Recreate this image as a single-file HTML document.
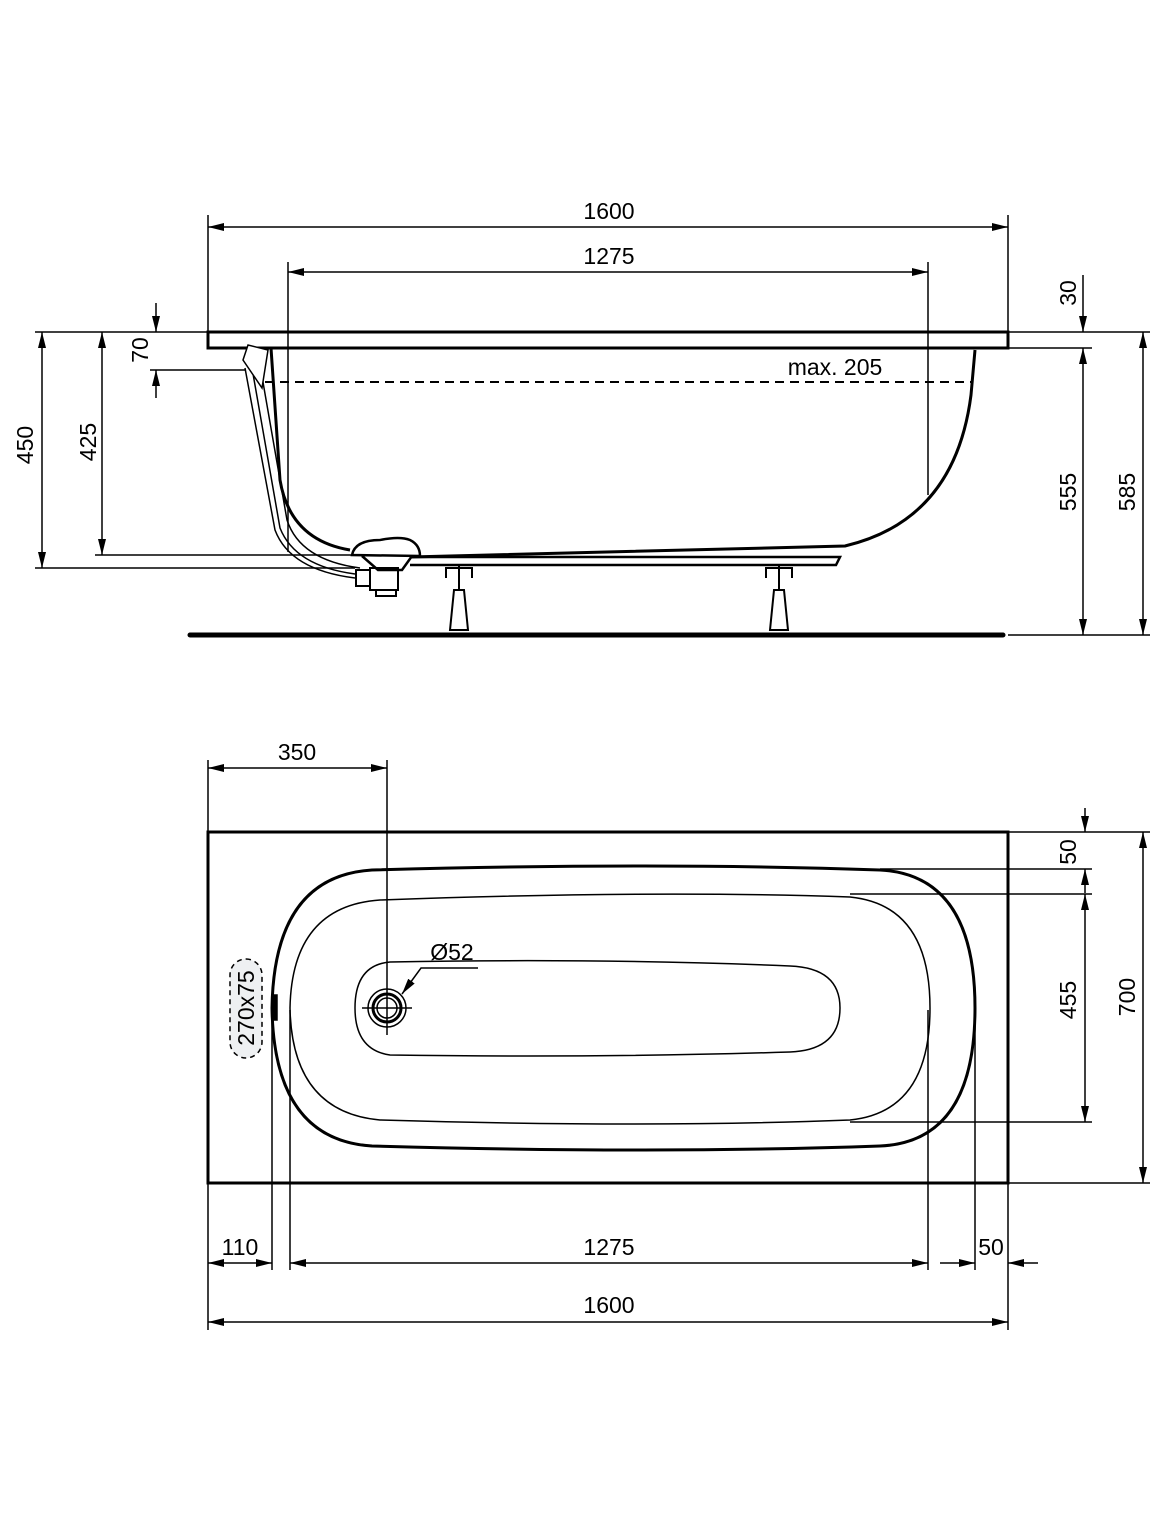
<!DOCTYPE html>
<html><head><meta charset="utf-8"><style>
html,body{margin:0;padding:0;background:#fff}
svg{display:block}
text{font-family:"Liberation Sans",Arial,sans-serif;font-size:23px;fill:#000}
</style></head><body>
<svg width="1172" height="1534" viewBox="0 0 1172 1534" xmlns="http://www.w3.org/2000/svg">
<defs>
<marker id="a" viewBox="0 0 16 8" refX="16" refY="4" markerWidth="16" markerHeight="8" markerUnits="userSpaceOnUse" orient="auto-start-reverse">
<path d="M0,0 L16,4 L0,8 Z" fill="#000"/></marker>
</defs>
<g fill="none" stroke="#000" stroke-width="1.5">
<line x1="208" y1="215" x2="208" y2="332"/><line x1="1008" y1="215" x2="1008" y2="332"/>
<line x1="208" y1="227" x2="1008" y2="227" marker-start="url(#a)" marker-end="url(#a)"/>
<line x1="288" y1="262" x2="288" y2="552"/><line x1="928" y1="262" x2="928" y2="495"/>
<line x1="288" y1="272" x2="928" y2="272" marker-start="url(#a)" marker-end="url(#a)"/>
<rect x="208" y="332" width="800" height="16" stroke-width="3"/>
<path d="M271,348 L280,480 Q290,540 350,550 M975,350 L971,395 Q955,520 845,546 L410,557" stroke-width="3"/>
<line x1="265" y1="382" x2="972" y2="382" stroke-dasharray="9,6" stroke-width="2"/>
<path d="M245,368 L275,530 Q290,570 355,578" stroke-width="1.5"/>
<path d="M252,368 L280,528 Q295,566 355,574" stroke-width="1.5"/>
<path d="M260,365 L287,520 Q300,560 360,568" stroke-width="1.5"/>
<path d="M243,360 L248,345 L268,350 L262,388 Z" stroke-width="1.5" fill="#fff"/>
<path d="M352,555 Q355,540 380,540 Q400,536 410,540 Q420,545 420,556 Z" stroke-width="2.5" fill="#fff"/>
<path d="M362,556 L378,570 L402,570 L412,556" stroke-width="2.5"/>
<rect x="356" y="570" width="14" height="16" stroke-width="2"/>
<rect x="370" y="568" width="28" height="22" stroke-width="2"/>
<rect x="376" y="590" width="20" height="6" stroke-width="2"/>
<path d="M410,557 L840,557 L836,565 L410,565" stroke-width="2.5"/>
<g stroke-width="2">
<path d="M446,578 L446,568 L472,568 L472,578 M459,565 L459,590"/>
<path d="M454,590 L464,590 L468,630 L450,630 Z"/>
<path d="M766,578 L766,568 L792,568 L792,578 M779,565 L779,590"/>
<path d="M774,590 L784,590 L788,630 L770,630 Z"/>
</g>
<line x1="190" y1="635" x2="1003" y2="635" stroke-width="5" stroke-linecap="round"/>
<line x1="1008" y1="332" x2="1150" y2="332"/>
<line x1="1008" y1="348" x2="1092" y2="348"/>
<line x1="1008" y1="635" x2="1150" y2="635"/>
<line x1="1083" y1="275" x2="1083" y2="332" marker-end="url(#a)"/>
<line x1="1083" y1="348" x2="1083" y2="635" marker-start="url(#a)" marker-end="url(#a)"/>
<line x1="1143" y1="332" x2="1143" y2="635" marker-start="url(#a)" marker-end="url(#a)"/>
<line x1="35" y1="332" x2="208" y2="332"/>
<line x1="150" y1="370" x2="245" y2="370"/>
<line x1="95" y1="555" x2="355" y2="555"/>
<line x1="35" y1="568" x2="355" y2="568"/>
<line x1="42" y1="332" x2="42" y2="568" marker-start="url(#a)" marker-end="url(#a)"/>
<line x1="102" y1="332" x2="102" y2="555" marker-start="url(#a)" marker-end="url(#a)"/>
<line x1="156" y1="303" x2="156" y2="332" marker-end="url(#a)"/>
<line x1="156" y1="398" x2="156" y2="370" marker-end="url(#a)"/>

<rect x="208" y="832" width="800" height="351" stroke-width="3"/>
<path d="M372,870 Q660,862 880,870 Q975,875 975,1008 Q975,1142 880,1146 Q660,1154 372,1146 Q274,1140 272,1008 Q274,876 372,870 Z" stroke-width="3"/>
<path d="M380,900 Q650,890 850,897 Q930,905 930,1008 Q930,1112 850,1120 Q650,1128 380,1120 Q292,1112 290,1008 Q292,906 380,900 Z" stroke-width="1.5"/>
<path d="M390,962 Q600,958 790,966 Q840,968 840,1008 Q840,1050 790,1052 Q600,1058 390,1055 Q355,1050 355,1008 Q355,965 390,962 Z" stroke-width="1.5"/>
<circle cx="387" cy="1008" r="19"/><circle cx="387" cy="1008" r="14" stroke-width="3"/><circle cx="387" cy="1008" r="10"/>
<line x1="362" y1="1008" x2="412" y2="1008"/>
<line x1="387" y1="760" x2="387" y2="1035"/>
<line x1="208" y1="760" x2="208" y2="832"/>
<line x1="208" y1="768" x2="387" y2="768" marker-start="url(#a)" marker-end="url(#a)"/>
<path d="M478,968 L421,968 L402,994" marker-end="url(#a)"/>
<rect x="230" y="959" width="32" height="99" rx="16" stroke-dasharray="5,4" stroke-width="1.5" fill="#eef0f2"/>
<rect x="272" y="995" width="5" height="25" fill="#000"/>
<line x1="1008" y1="832" x2="1150" y2="832"/>
<line x1="880" y1="869" x2="1092" y2="869"/>
<line x1="850" y1="894" x2="1092" y2="894"/>
<line x1="850" y1="1122" x2="1092" y2="1122"/>
<line x1="1008" y1="1183" x2="1150" y2="1183"/>
<line x1="1085" y1="808" x2="1085" y2="832" marker-end="url(#a)"/>
<line x1="1085" y1="893" x2="1085" y2="869" marker-end="url(#a)"/>
<line x1="1085" y1="894" x2="1085" y2="1122" marker-start="url(#a)" marker-end="url(#a)"/>
<line x1="1143" y1="832" x2="1143" y2="1183" marker-start="url(#a)" marker-end="url(#a)"/>
<line x1="208" y1="1183" x2="208" y2="1330"/>
<line x1="1008" y1="1183" x2="1008" y2="1330"/>
<line x1="272" y1="1020" x2="272" y2="1270"/>
<line x1="290" y1="1010" x2="290" y2="1270"/>
<line x1="928" y1="1010" x2="928" y2="1270"/>
<line x1="975" y1="1010" x2="975" y2="1270"/>
<line x1="208" y1="1263" x2="272" y2="1263" marker-start="url(#a)" marker-end="url(#a)"/>
<line x1="290" y1="1263" x2="928" y2="1263" marker-start="url(#a)" marker-end="url(#a)"/>
<line x1="940" y1="1263" x2="975" y2="1263" marker-end="url(#a)"/>
<line x1="1038" y1="1263" x2="1008" y2="1263" marker-end="url(#a)"/>
<line x1="208" y1="1322" x2="1008" y2="1322" marker-start="url(#a)" marker-end="url(#a)"/>
</g>
<text x="609" y="219" text-anchor="middle">1600</text>
<text x="609" y="264" text-anchor="middle">1275</text>
<text x="835" y="375" text-anchor="middle">max. 205</text>
<text transform="translate(1076,293) rotate(-90)" text-anchor="middle">30</text>
<text transform="translate(1076,492) rotate(-90)" text-anchor="middle">555</text>
<text transform="translate(1135,492) rotate(-90)" text-anchor="middle">585</text>
<text transform="translate(33,445) rotate(-90)" text-anchor="middle">450</text>
<text transform="translate(96,442) rotate(-90)" text-anchor="middle">425</text>
<text transform="translate(148,350) rotate(-90)" text-anchor="middle">70</text>
<text x="297" y="760" text-anchor="middle">350</text>
<text x="452" y="960" text-anchor="middle">Ø52</text>
<text transform="translate(254,1008) rotate(-90)" text-anchor="middle">270x75</text>
<text transform="translate(1076,852) rotate(-90)" text-anchor="middle">50</text>
<text transform="translate(1076,1000) rotate(-90)" text-anchor="middle">455</text>
<text transform="translate(1135,997) rotate(-90)" text-anchor="middle">700</text>
<text x="240" y="1255" text-anchor="middle">110</text>
<text x="609" y="1255" text-anchor="middle">1275</text>
<text x="991" y="1255" text-anchor="middle">50</text>
<text x="609" y="1313" text-anchor="middle">1600</text>
</svg>
</body></html>
